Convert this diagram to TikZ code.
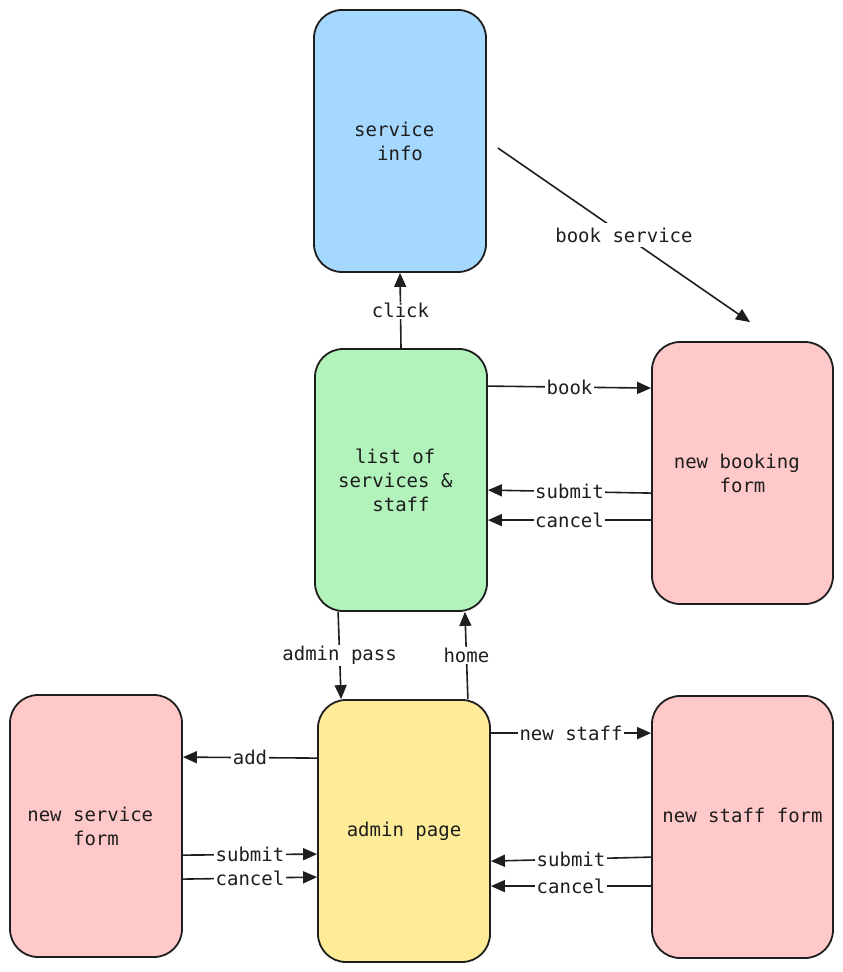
\documentclass[tikz,border=0pt]{standalone}
\usepackage{fontspec}
\setmainfont{DejaVu Sans Mono}
\usetikzlibrary{arrows.meta}
\definecolor{ink}{HTML}{1E1E1E}
\definecolor{infoblue}{HTML}{A5D8FF}
\definecolor{listgreen}{HTML}{B2F2BB}
\definecolor{formpink}{HTML}{FFC9C9}
\definecolor{adminyellow}{HTML}{FFEC99}
% one monospaced blank kept at the end of a line
\newcommand\trail{\phantom{x}}
\tikzset{
  screen/.style={draw=ink, line width=1.8pt, rounded corners=28pt,
    minimum width=172pt, minimum height=262pt, inner sep=0pt,
    align=center, text=ink, font=\fontsize{19}{24}\selectfont},
  link/.style={draw=ink, line width=1.6pt, -{Triangle[length=14pt,width=12pt]}},
  tag/.style={fill=white, inner sep=1.5pt, text=ink,
    font=\fontsize{19}{22}\selectfont}
}
\begin{document}
\begin{tikzpicture}[x=1pt, y=-1pt]
  \useasboundingbox (0,0) rectangle (843,972);

  % screens
  \node[screen, fill=infoblue]    (info)    at (400,141)   {service\trail\\info};
  \node[screen, fill=listgreen]   (list)    at (401,480)   {list of\trail\\services \&\trail\\staff};
  \node[screen, fill=formpink, minimum width=181pt] (booking) at (742.5,473) {new booking\trail\\form};
  \node[screen, fill=formpink]    (sform)   at (96,826)    {new service\trail\\form};
  \node[screen, fill=adminyellow] (admin)   at (404,831)   {admin page};
  \node[screen, fill=formpink, minimum width=181pt] (staff) at (742.5,827) {\raisebox{24pt}{new staff form}};

  % loose ends of the booking shortcut
  \coordinate (bsstart) at ([xshift=11pt,yshift=-7pt]info.east);
  \coordinate (bsend)   at ([xshift=7.5pt,yshift=19pt]booking.north);

  % transitions
  \draw[link] (list.north) -- (info.south) node[tag, midway] {click};
  \draw[link] (bsstart) -- (bsend) node[tag, midway, inner sep=5pt] {book service};

  \draw[link] ([yshift=-38pt]list.north east) -- ([yshift=-47pt]booking.north west)
    node[tag, midway] {book};
  \draw[link] ([yshift=-152pt]booking.north west) -- ([yshift=-142pt]list.north east)
    node[tag, midway] {submit};
  \draw[link] ([yshift=-179pt]booking.north west) -- ([yshift=-172pt]list.north east)
    node[tag, midway] {cancel};

  \draw[link] ([xshift=24pt]list.south west) -- ([xshift=24pt]admin.north west)
    node[tag, midway] {admin pass};
  \draw[link] ([xshift=-23pt]admin.north east) -- ([xshift=-23pt]list.south east)
    node[tag, midway] {home};

  \draw[link] ([yshift=-59pt]admin.north west) -- ([yshift=-63pt]sform.north east)
    node[tag, midway] {add};
  \draw[link] ([yshift=-161pt]sform.north east) -- ([yshift=-155pt]admin.north west)
    node[tag, midway] {submit};
  \draw[link] ([yshift=-185pt]sform.north east) -- ([yshift=-178pt]admin.north west)
    node[tag, midway] {cancel};

  \draw[link] ([yshift=-34pt]admin.north east) -- ([yshift=-38pt]staff.north west)
    node[tag, midway] {new staff};
  \draw[link] ([yshift=-162pt]staff.north west) -- ([yshift=-162pt]admin.north east)
    node[tag, midway] {submit};
  \draw[link] ([yshift=-191pt]staff.north west) -- ([yshift=-187pt]admin.north east)
    node[tag, midway] {cancel};
\end{tikzpicture}
\end{document}
